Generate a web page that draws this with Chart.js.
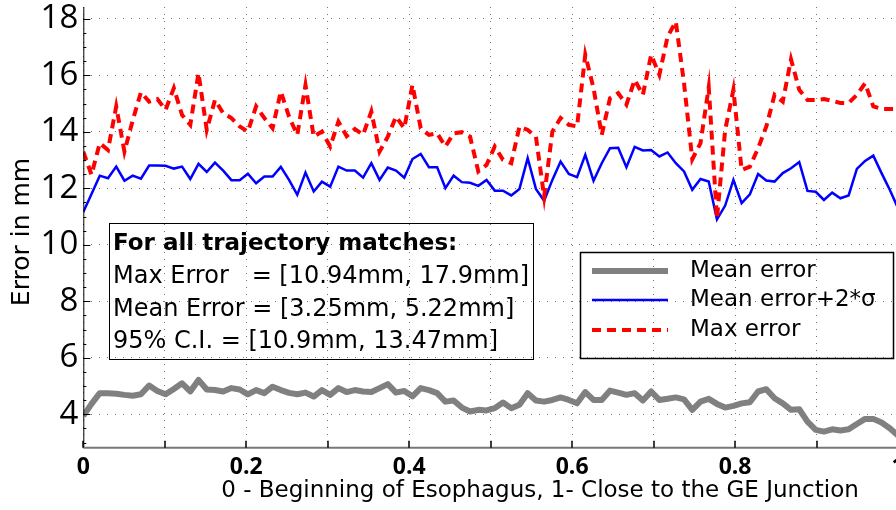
<!DOCTYPE html>
<html>
<head>
<meta charset="utf-8">
<script src="https://cdn.jsdelivr.net/npm/chart.js@4.4.0/dist/chart.umd.min.js"></script>
<style>
  html, body { margin: 0; padding: 0; background: #fff; overflow: hidden; }
  #wrap { width: 896px; height: 510px; overflow: hidden; }
  canvas { display: block; }
</style>
</head>
<body>
<div id="wrap"><canvas id="chart" width="900" height="510"></canvas></div>
<script>
// values, one per position step along the esophagus
const meanError = [
    3.95, 4.37, 4.75, 4.75, 4.73, 4.69, 4.66, 4.71, 5.02, 4.83,
    4.71, 4.90, 5.10, 4.81, 5.22, 4.88, 4.86, 4.81, 4.93, 4.88,
    4.71, 4.86, 4.75, 4.98, 4.86, 4.76, 4.71, 4.77, 4.63, 4.86,
    4.69, 4.93, 4.79, 4.86, 4.81, 4.79, 4.93, 5.07, 4.77, 4.83,
    4.64, 4.93, 4.86, 4.75, 4.45, 4.49, 4.24, 4.10, 4.16, 4.14,
    4.22, 4.42, 4.22, 4.34, 4.75, 4.49, 4.45, 4.51, 4.60, 4.51,
    4.39, 4.79, 4.51, 4.51, 4.84, 4.77, 4.69, 4.75, 4.49, 4.81,
    4.51, 4.55, 4.60, 4.53, 4.16, 4.45, 4.55, 4.37, 4.24, 4.30,
    4.39, 4.43, 4.81, 4.89, 4.57, 4.39, 4.16, 4.18, 3.74, 3.45,
    3.39, 3.47, 3.43, 3.47, 3.66, 3.84, 3.84, 3.71, 3.51, 3.25
];
const meanPlus2Sigma = [
    11.16, 11.80, 12.45, 12.36, 12.77, 12.27, 12.45, 12.34, 12.81, 12.81,
    12.80, 12.70, 12.77, 12.33, 12.87, 12.58, 12.91, 12.63, 12.29, 12.29,
    12.52, 12.18, 12.42, 12.42, 12.76, 12.30, 11.77, 12.56, 11.89, 12.24,
    12.06, 12.77, 12.63, 12.63, 12.38, 12.89, 12.30, 12.74, 12.63, 12.38,
    13.04, 13.22, 12.75, 12.75, 12.01, 12.45, 12.22, 12.20, 12.09, 12.30,
    11.92, 11.92, 11.75, 11.98, 13.07, 11.98, 11.56, 12.30, 12.95, 12.51,
    12.40, 13.19, 12.27, 12.89, 13.42, 13.44, 12.75, 13.47, 13.34, 13.36,
    13.13, 13.27, 12.89, 12.60, 11.95, 12.33, 12.24, 10.90, 11.39, 12.30,
    11.48, 11.79, 12.51, 12.28, 12.24, 12.54, 12.71, 12.93, 11.91, 11.88,
    11.59, 11.85, 11.65, 11.75, 12.69, 12.97, 13.16, 12.54, 11.95, 11.30
];
const maxError = [
    13.30, 12.48, 13.60, 13.36, 14.90, 13.30, 14.40, 15.40, 15.07, 15.16,
    14.78, 15.55, 14.60, 14.25, 16.08, 14.07, 15.13, 14.66, 14.49, 14.19,
    14.01, 14.90, 14.49, 14.13, 15.43, 14.54, 13.89, 15.66, 13.83, 14.01,
    13.48, 14.36, 13.85, 14.10, 13.90, 14.72, 13.30, 13.83, 14.54, 14.13,
    15.66, 14.13, 13.89, 13.95, 13.48, 13.95, 13.99, 13.83, 12.60, 12.83,
    13.48, 13.01, 12.89, 14.19, 14.07, 13.83, 11.71, 14.01, 14.49, 14.25,
    14.19, 16.73, 15.55, 13.89, 15.19, 15.37, 14.96, 15.84, 15.31, 16.73,
    16.02, 17.37, 17.90, 15.72, 13.03, 13.60, 15.58, 10.94, 14.07, 15.49,
    12.65, 12.77, 13.42, 14.19, 15.31, 15.07, 16.57, 15.49, 15.13, 15.13,
    15.16, 15.10, 15.02, 15.02, 15.31, 15.72, 14.90, 14.81, 14.81, 14.81
];
const positions = meanError.map((_, i) => i / (meanError.length - 1));

const seriesLabels = ["Mean error", "Mean error+2*σ", "Max error"];
const xTickLabels = ["0", "0.2", "0.4", "0.6", "0.8", "1"];
const yTickValues = [4, 6, 8, 10, 12, 14, 16, 18];
const xTitle = "0 - Beginning of Esophagus, 1- Close to the GE Junction";
const yTitle = "Error in mm";
const summaryTitle = "For all trajectory matches:";
const summaryLines = [
    "Max Error   = [10.94mm, 17.9mm]",
    "Mean Error = [3.25mm, 5.22mm]",
    "95% C.I. = [10.9mm, 13.47mm]"
];

const TICK_FONT = "'Open Sans', 'DejaVu Sans', sans-serif";
const TEXT_FONT = "'DejaVu Sans', 'Open Sans', sans-serif";

const toPoints = values => values.map((v, i) => ({ x: positions[i], y: v }));

const decorations = {
    id: "decorations",
    afterDraw(chart) {
        const { ctx, chartArea: a, scales: { x, y } } = chart;
        ctx.save();

        // axis lines
        ctx.strokeStyle = "#000";
        ctx.lineWidth = 1;
        ctx.beginPath();
        ctx.moveTo(a.left + 0.5, a.top);
        ctx.lineTo(a.left + 0.5, a.bottom);
        ctx.stroke();
        ctx.strokeStyle = "#777";
        ctx.lineWidth = 2;
        ctx.beginPath();
        ctx.moveTo(a.left, a.bottom);
        ctx.lineTo(a.right, a.bottom);
        ctx.stroke();

        // inward tick marks, matlab style
        ctx.strokeStyle = "#000";
        ctx.lineWidth = 1.5;
        for (let k = 0; k <= 10; k++) {
            const px = Math.round(x.getPixelForValue(k / 10));
            ctx.beginPath();
            ctx.moveTo(px, a.bottom);
            ctx.lineTo(px, a.bottom - 7);
            ctx.stroke();
        }
        ctx.lineWidth = 1;
        for (let v = 3; v <= 18.4; v += 0.5) {
            const py = Math.round(y.getPixelForValue(v)) + 0.5;
            const len = v % 2 === 0 ? 7 : 3;
            ctx.beginPath();
            ctx.moveTo(a.left, py);
            ctx.lineTo(a.left + len, py);
            ctx.stroke();
        }

        // axis titles
        ctx.fillStyle = "#000";
        ctx.textAlign = "center";
        ctx.textBaseline = "middle";
        ctx.font = `23px ${TEXT_FONT}`;
        ctx.fillText(xTitle, 540, 491);
        ctx.save();
        ctx.translate(22, 232);
        ctx.rotate(-Math.PI / 2);
        ctx.font = `25px ${TEXT_FONT}`;
        ctx.fillText(yTitle, 0, 0);
        ctx.restore();

        // summary box
        ctx.strokeStyle = "#000";
        ctx.lineWidth = 1;
        ctx.strokeRect(109.5, 223.5, 424, 136);
        ctx.textAlign = "left";
        ctx.textBaseline = "alphabetic";
        ctx.font = `bold 23px ${TEXT_FONT}`;
        ctx.fillText(summaryTitle, 113, 250);
        ctx.font = `24px ${TEXT_FONT}`;
        summaryLines.forEach((t, i) => ctx.fillText(t, 113, 283 + i * 32.5));

        // legend
        ctx.lineWidth = 1.5;
        ctx.strokeRect(580.5, 252.5, 313, 106);
        const rows = [271, 300, 330];
        chart.data.datasets.forEach((ds, i) => {
            ctx.save();
            ctx.strokeStyle = ds.borderColor;
            ctx.lineWidth = ds.borderWidth;
            ctx.setLineDash(ds.borderDash || []);
            ctx.beginPath();
            ctx.moveTo(592, rows[i]);
            ctx.lineTo(668, rows[i]);
            ctx.stroke();
            ctx.restore();
            ctx.textBaseline = "middle";
            ctx.font = `23px ${TEXT_FONT}`;
            ctx.fillText(ds.label, 690, rows[i]);
        });

        ctx.restore();
    }
};

new Chart(document.getElementById("chart"), {
    type: "line",
    data: {
        datasets: [
            {
                label: seriesLabels[0],
                data: toPoints(meanError),
                borderColor: "#808080",
                borderWidth: 6,
                borderJoinStyle: "round",
                pointRadius: 0,
                order: 2
            },
            {
                label: seriesLabels[1],
                data: toPoints(meanPlus2Sigma),
                borderColor: "#0000ff",
                borderWidth: 2.5,
                pointRadius: 0,
                order: 1
            },
            {
                label: seriesLabels[2],
                data: toPoints(maxError),
                borderColor: "#ff0000",
                borderWidth: 4,
                borderDash: [9, 6],
                pointRadius: 0,
                order: 0
            }
        ]
    },
    options: {
        responsive: false,
        animation: false,
        devicePixelRatio: 1,
        layout: { padding: { top: 7, right: 2, left: 0, bottom: 0 } },
        plugins: { legend: { display: false }, tooltip: { enabled: false } },
        scales: {
            x: {
                type: "linear",
                min: 0,
                max: 1,
                afterFit: s => {
                    s.height = 62.3;
                    s.paddingLeft = 0;
                    s.paddingRight = 0;
                },
                border: { display: false, dash: [1, 6] },
                grid: { color: "rgba(0,0,0,0.55)", lineWidth: 1, drawTicks: false },
                ticks: {
                    stepSize: 0.1,
                    includeBounds: false,
                    autoSkip: false,
                    maxRotation: 0,
                    padding: 6,
                    color: "#000",
                    font: { family: TICK_FONT, size: 23, weight: "bold" },
                    callback: value => {
                        const k = Math.round(value * 10);
                        return k % 2 === 0 ? xTickLabels[k / 2] : "";
                    }
                }
            },
            y: {
                min: 2.82,
                max: 18.42,
                afterFit: s => {
                    s.width = 83.3;
                    s.paddingTop = 0;
                    s.paddingBottom = 0;
                },
                border: { display: false, dash: [1, 7] },
                grid: { color: "rgba(0,0,0,0.55)", lineWidth: 1, drawTicks: false },
                ticks: {
                    stepSize: 2,
                    includeBounds: false,
                    padding: 5,
                    color: "#000",
                    font: { family: TICK_FONT, size: 33 },
                    callback: value => yTickValues.includes(value) ? String(value) : ""
                }
            }
        }
    },
    plugins: [decorations]
});
</script>
</body>
</html>
